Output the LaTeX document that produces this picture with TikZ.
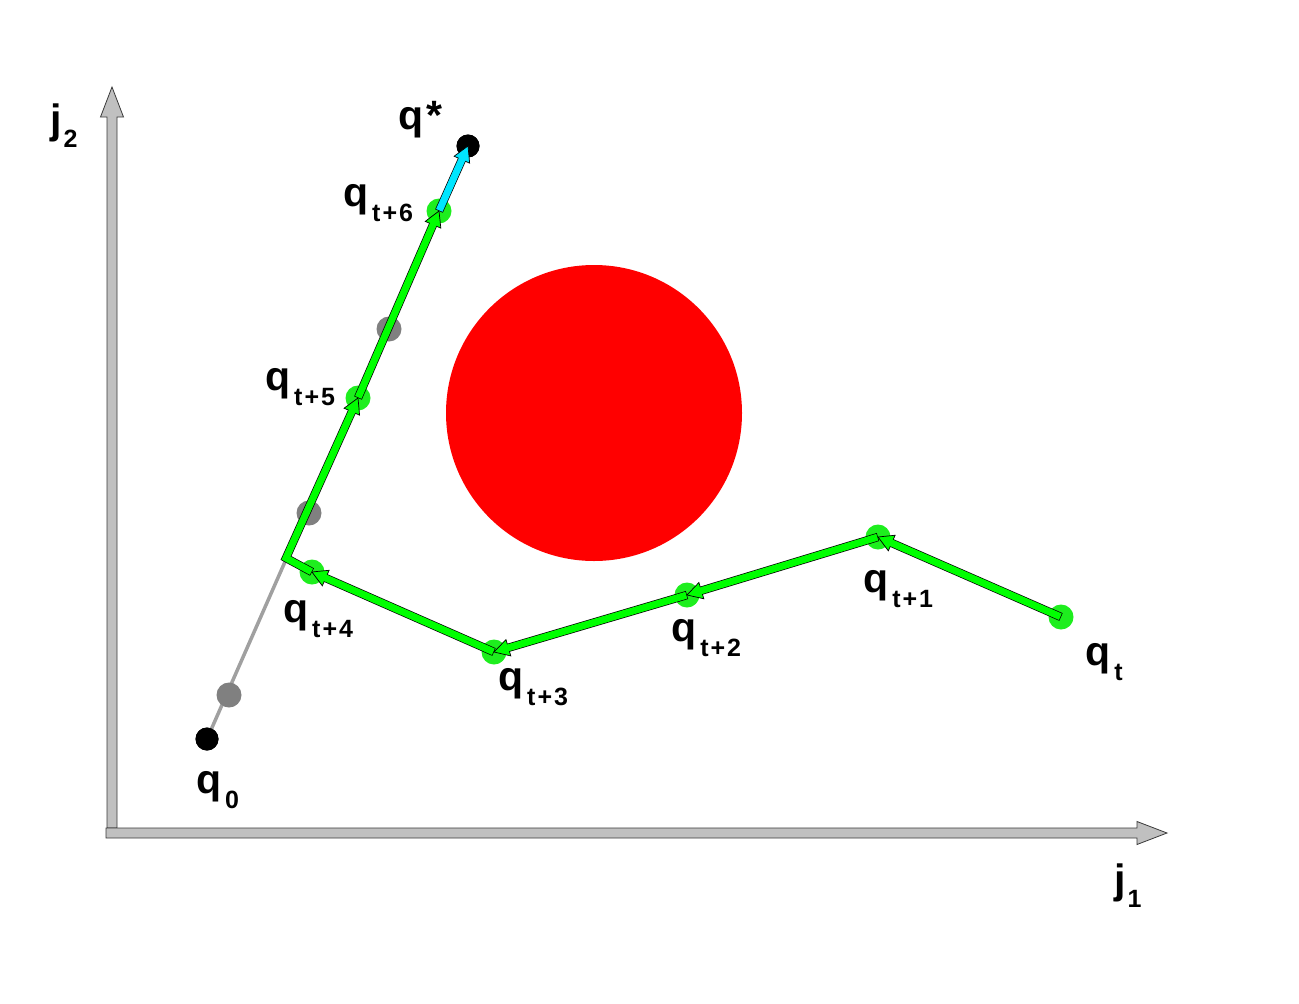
\documentclass[tikz,border=0pt]{standalone}
\usepackage{fontspec}
\setmainfont{Liberation Sans}
\usetikzlibrary{calc}
\definecolor{gr}{HTML}{00FF00}
\definecolor{gdot}{HTML}{1EEE1E}
\definecolor{cy}{HTML}{00E5FF}
\definecolor{axfill}{HTML}{C0C0C0}
\definecolor{axline}{HTML}{3A3A3A}
\definecolor{dotgray}{HTML}{808080}
\definecolor{linegray}{HTML}{A0A0A0}
\newcommand\bigf{\fontsize{41}{41}\selectfont\bfseries}
\newcommand\subf{\fontsize{25}{25}\selectfont\bfseries}
\newcommand\qq[1]{\bigf q\hspace{4pt}\raisebox{-15pt}{\subf #1}}
\newcommand\jj[1]{\bigf j\hspace{2pt}\raisebox{-14pt}{\subf #1}}
\newcommand\tp[1]{t\kern2pt+\kern2pt#1}
\newcommand\blockpoly[6]{%
  \coordinate (bp) at ($(#3)!#6!(#2)$);
  \filldraw[#1] ($(#2)!#4!90:(#3)$) -- ($(bp)!#4!90:(#3)$) -- ($(bp)!#5!90:(#3)$) -- (#3)
    -- ($(bp)!#5!-90:(#3)$) -- ($(bp)!#4!-90:(#3)$) -- ($(#2)!#4!-90:(#3)$) -- cycle;}
\newcommand\headtri[3]{% colour, from, tip
  \coordinate (hb) at ($(#3)!15pt!(#2)$);
  \filldraw[fill=#1, draw=black, line width=0.7pt, line join=miter]
    ($(hb)!8.5pt!90:(#3)$) -- (#3) -- ($(hb)!8.5pt!-90:(#3)$) -- cycle;}
\newcommand\garrow[3]{% colour, from, to
  \headtri{#1}{#2}{#3}
  \draw[black, line width=8.4pt] (#2) -- (hb);
  \draw[#1, line width=7pt, shorten <=0.7pt, shorten >=-1.5pt] (#2) -- (hb);}
\tikzset{
  dot/.style={circle, inner sep=0pt, minimum size=#1},
  gdotst/.style={dot=25pt, fill=gdot},
  graydot/.style={dot=25pt, fill=dotgray},
  blackdot/.style={dot=23pt, fill=black},
  lab/.style={anchor=base west, inner sep=0pt, text=black},
  axis/.style={fill=axfill, draw=axline, line width=0.8pt, line join=miter}
}
\begin{document}
\begin{tikzpicture}[x=1pt,y=-1pt]
\useasboundingbox (0,0) rectangle (1299,1004);
% axes
\coordinate (xs) at (106,833);
\coordinate (xe) at (1167,833);
\coordinate (ys) at (112,828);
\coordinate (ye) at (112,87);
\blockpoly{axis}{ys}{ye}{5pt}{11.5pt}{30pt}
\blockpoly{axis}{xs}{xe}{5pt}{11.5pt}{30pt}
\node[lab] (j1) at (1114,893) {\jj{1}};
\node[lab] (j2) at (50,133) {\jj{2}};
% obstacle
\fill[red] (594,413) circle[radius=148];
% straight-line path
\node[blackdot] (q0) at (207,739) {};
\node[blackdot] (qs) at (468,146) {};
\draw[linegray, line width=3.5pt] (q0.center) -- (qs.center);
\node[graydot] (g1) at (229,695) {};
\node[graydot] (g2) at (309,513) {};
\node[graydot] (g3) at (389,329) {};
\node[blackdot] at (q0) {};
\node[blackdot] at (qs) {};
% green states
\node[gdotst] (t0) at (1061,617) {};
\node[gdotst] (t1) at (878,537) {};
\node[gdotst] (t2) at (687,595) {};
\node[gdotst] (t3) at (494,652) {};
\node[gdotst] (t4) at (312,572) {};
\node[gdotst] (t5) at (358,398) {};
\node[gdotst] (t6) at (439,211) {};
\coordinate (corner) at (286,558);
% arrows
\garrow{gr}{t0.center}{t1.center}
\garrow{gr}{t1.center}{t2.center}
\garrow{gr}{t2.center}{t3.center}
\garrow{gr}{t3.center}{t4.center}
\headtri{gr}{corner}{t5.center}
\draw[black, line width=8.4pt, line join=miter] (t4.center) -- (corner) -- (hb);
\draw[gr, line width=7pt, line join=miter, shorten <=0.7pt, shorten >=-1.5pt] (t4.center) -- (corner) -- (hb);
\garrow{gr}{t5.center}{t6.center}
\garrow{cy}{t6.center}{qs.center}
% labels
\node[lab] (lq0) at (196,793) {\qq{0}};
\node[lab] (lqs) at (398,129) {\bigf q\kern3pt*};
\node[lab] (lt0) at (1085,665) {\qq{t}};
\node[lab] (lt1) at (863,592) {\qq{\tp{1}}};
\node[lab] (lt2) at (671,641) {\qq{\tp{2}}};
\node[lab] (lt3) at (498,690) {\qq{\tp{3}}};
\node[lab] (lt4) at (283,622) {\qq{\tp{4}}};
\node[lab] (lt5) at (265,390) {\qq{\tp{5}}};
\node[lab] (lt6) at (343,206) {\qq{\tp{6}}};
\end{tikzpicture}
\end{document}
